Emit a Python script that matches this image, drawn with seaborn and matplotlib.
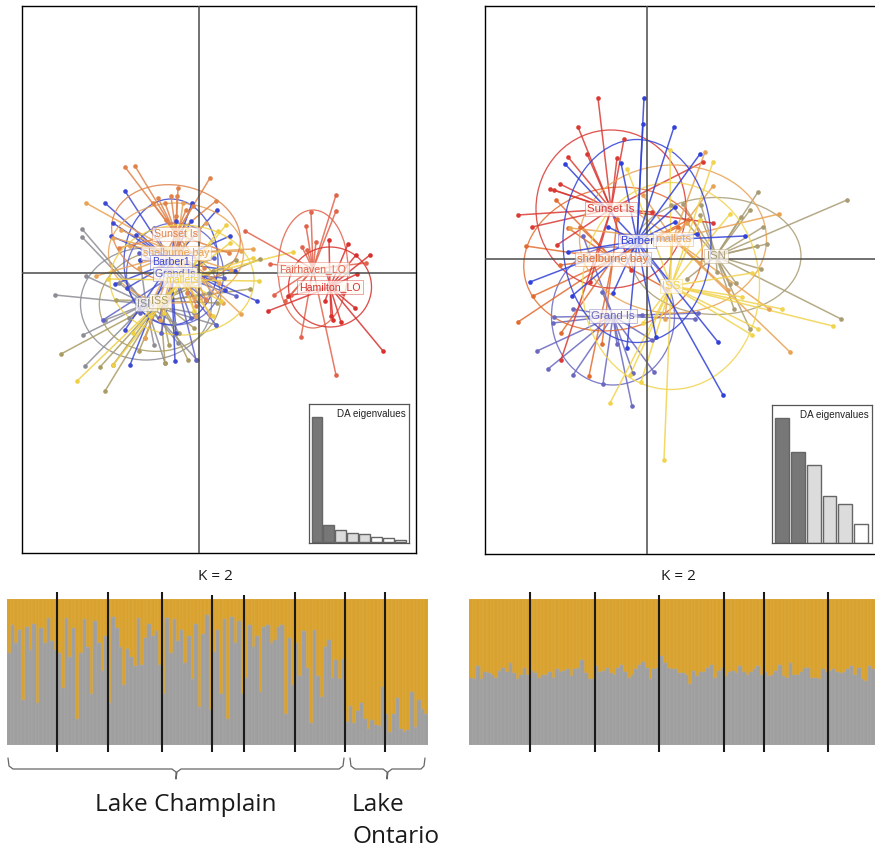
import matplotlib
matplotlib.use("Agg")
import matplotlib.pyplot as plt
from matplotlib.patches import Ellipse
import numpy as np
import pandas as pd
import seaborn as sns

W, H = 875, 849

# --- DAPC left panel: label, colour, centroid, ellipse (w, h, angle), points
left_names = ["ISN", "ISS", "Grand Is", "Barber1", "shelburne bay", "Sunset Is", "mallets", "Fairhaven_LO", "Hamilton_LO"]
left_colors = ["#8c8c94", "#a99b62", "#5f63c8", "#3c48d4", "#e8a355", "#e0824a", "#efd045", "#e2634c", "#d8302c"]
left_centers = [(-53, -31), (-39, -28), (-24, -1), (-28, 11), (-23, 20), (-23, 39), (-17, -7), (114, 4), (131, -14)]
left_ellipses = [(131, 112, 0), (122, 100, 10), (97, 102, 0), (94, 126, 0), (135, 100, 0),
                 (130, 97, -12), (144, 110, 0), (70, 118, 0), (83, 80, 0)]
left_points = [
    [(-117, 44), (-117, 36), (-113, -3), (-144, -22), (-114, -93), (-116, -62), (-94, -47), (-2, -87),
     (17, -52), (-21, -70), (-59, 13), (-34, -90), (-70, -45), (-5, -40), (-80, -10), (-25, -50), (10, -20), (-45, -72)],
    [(-138, -81), (-94, -118), (-99, -94), (-86, -92), (-34, -90), (-11, -87), (51, -16), (61, 14),
     (-83, -27), (-54, -65), (14, 2), (37, 13), (-20, -60), (-60, -78), (-5, -55), (-30, -72), (18, -30)],
    [(-40, -45), (17, -52), (-3, -87), (-38, -60), (-59, -40), (-96, -47), (37, -23), (7, -27), (-60, 20), (-45, 45), (15, 15), (-8, -45), (25, -5)],
    [(-74, 82), (-94, 70), (-86, 50), (-88, 37), (-63, 38), (-7, 70), (18, 63), (31, 37), (-23, 52), (-8, 52),
     (58, -28), (-24, -88), (-69, -92), (-23, -60), (-74, -57), (-84, -11), (-59, 13), (36, 2), (26, -17), (-72, -15)],
    [(-113, 70), (-86, 35), (-78, 43), (-103, -3), (42, 22), (32, 3), (-69, 27), (-54, -65), (-3, -43),
     (11, -42), (-39, -47), (24, -30), (42, -41), (-16, 70), (7, 50), (54, 24), (-5, -25), (-45, -25), (20, -10), (-60, 5)],
    [(-74, 106), (-64, 107), (11, 95), (-21, 85), (-46, 70), (-28, 77), (-22, 77), (-41, 75), (-34, 70),
     (-13, 63), (-23, 57), (-33, 53), (-6, 67), (17, 72), (7, -27), (-3, -33), (-80, 25), (30, 20), (-30, -25), (-12, -20), (-40, 5), (5, 5)],
    [(-122, -108), (-91, -6), (94, 21), (27, 48), (19, 42), (54, 15), (14, -43), (-49, -43), (-86, -92),
     (-66, -60), (31, 30), (-12, 44), (60, -8), (-35, -40), (-5, -38), (22, -28), (-30, 25)],
    [(137, 78), (137, 62), (112, 61), (107, 47), (117, 31), (103, 26), (108, 23), (71, 9), (75, -22),
     (86, -28), (102, -64), (137, -102), (46, 42), (167, 10), (92, -22)],
    [(130, 33), (149, 29), (157, 18), (171, 18), (158, -1), (184, -78), (69, -38), (89, -23), (134, -47),
     (142, -49), (156, -35), (126, -28), (132, -43), (144, -20), (128, 0)],
]
left_label_order = ["Sunset Is", "shelburne bay", "Barber1", "Grand Is", "ISN", "ISS", "mallets", "Fairhaven_LO", "Hamilton_LO"]

# --- DAPC right panel
right_names = ["Grand Is", "ISN", "shelburne bay", "Sunset Is", "mallets", "ISS", "Barber"]
right_colors = ["#6a68c0", "#a99c74", "#e26c30", "#d93a34", "#e8a254", "#f1d34c", "#3040d8"]
right_centers = [(-34, -57), (69, 3), (-34, 0), (-36, 50), (26, 20), (24, -27), (-10, 18)]
right_ellipses = [(123, 138, 0), (170, 117, 0), (180, 142, 12), (150, 158, 0), (187, 148, 0), (177, 207, 0), (148, 203, 0)]
right_points = [
    [(-110, -92), (-99, -110), (-74, -116), (-44, -125), (-15, -147), (7, -113), (-14, -114), (-30, -85),
     (-93, -58), (-94, -64), (-74, -50), (48, -60), (51, -54), (5, -81), (-5, -56), (-64, 23), (-45, -33)],
    [(200, 59), (111, 67), (194, -60), (116, 32), (120, 15), (110, 13), (103, 49), (94, 42), (103, -70),
     (87, -50), (89, -24), (83, -25), (114, -10), (54, 54), (36, 55), (24, 54), (53, 44), (70, -13), (40, -20)],
    [(-129, -63), (-114, -37), (-121, 13), (-91, 59), (-87, -6), (-86, -74), (-58, -117), (-67, 32),
     (31, 32), (41, 39), (-79, 31), (20, -30), (-30, 40), (-45, -85)],
    [(-69, 132), (-49, 161), (-79, 102), (-60, 105), (-30, 101), (-23, 120), (-87, 75), (-97, 70), (-93, 69),
     (-129, 44), (-115, 32), (-90, 14), (56, 97), (66, 36), (-86, -101), (-57, -23), (-16, -11), (5, 47)],
    [(132, 45), (66, 73), (58, 107), (143, -93), (40, 36), (81, -31), (53, -4), (-4, 64), (-77, 31), (18, -60), (122, -50), (-22, 55)],
    [(17, -201), (-37, -144), (-6, -123), (66, 97), (83, 45), (186, -67), (135, -50), (111, -70), (105, -76),
     (-20, 90), (23, 109), (95, -38), (105, -14), (-4, -64), (-17, -116), (53, 39)],
    [(-4, 135), (-3, 161), (27, 132), (53, 105), (-82, 95), (-26, 96), (28, 52), (28, 37), (98, 23), (50, 25),
     (-79, 7), (-117, -23), (-75, -37), (-20, -89), (71, -83), (76, -136), (9, -78), (-34, -34), (-39, 32)],
]
right_label_order = ["Sunset Is", "Barber", "mallets", "shelburne bay", "ISN", "ISS", "Grand Is"]

# eigenvalue insets
left_eigen = [125, 17, 12.5, 9, 8.5, 5.5, 4, 2.5]
right_eigen = [125, 91, 78, 47, 39, 19]

# admixture proportions (grey part of every bar)
left_groups = [
    [.63, .82, .70, .79, .31, .81, .65, .83, .29, .80, .70, .87, .71, .65],
    [.63, .39, .87, .60, .80, .18, .63, .86, .67, .35, .85, .70, .51, .75],
    [.29, .88, .80, .67, .41, .66, .60, .54, .87, .55, .73, .83, .75, .78, .55],
    [.35, .87, .63, .86, .71, .79, .56, .75, .45, .83, .26, .76, .89, .24],
    [.64, .79, .35, .86, .18, .88, .70, .85, .35],
    [.46, .82, .67, .75, .36, .81, .82, .70, .72, .81, .82, .21, .73, .41],
    [.70, .47, .78, .53, .15, .79, .47, .33, .67, .72, .46, .58, .45, .59],
    [.16, .27, .15, .23, .29, .18, .11, .17, .14, .13, .40],
    [.21, .09, .21, .32, .11, .09, .10, .36, .12, .31, .25, .21],
]
right_groups = [
    [.46, .45, .54, .45, .50, .49, .48, .46, .51, .53, .50, .56, .49, .45, .48, .53, .48],
    [.51, .49, .46, .48, .48, .50, .46, .52, .50, .51, .52, .47, .52, .53, .58, .49, .45, .45],
    [.54, .50, .51, .53, .49, .48, .53, .55, .50, .46, .48, .52, .55, .57, .53, .45, .52, .53],
    [.61, .56, .53, .52, .52, .49, .49, .48, .42, .51, .47, .50, .50, .53, .55, .46, .51, .53],
    [.47, .50, .51, .49, .54, .50, .48, .50, .52, .54, .48],
    [.50, .47, .48, .51, .55, .47, .46, .56, .48, .48, .50, .53, .53, .46, .46, .45, .52, .50],
    [.51, .52, .50, .49, .50, .52, .54, .48, .53, .45, .44, .54, .52],
]
left_short = [3, 4]
right_short = [2]

brace_left = [(8, 758), (9, 766), (13, 769), (172, 769), (176, 772), (176, 779), (177, 772), (181, 769), (339, 769), (343, 766), (344, 758)]
brace_right = [(350, 758), (351, 766), (355, 769), (383, 769), (387, 772), (387, 779), (388, 772), (392, 769), (421, 769), (424, 766), (425, 758)]

sns.set_theme(style="white", rc={"font.family": "Liberation Sans"})
fig = plt.figure(figsize=(W / 100, H / 100), dpi=100)


def px_axes(x0, y0, x1, y1):
    return fig.add_axes([x0 / W, 1 - y1 / H, (x1 - x0) / W, (y1 - y0) / H])


def star_panel(ax, names, colors, centers, ellipses, points, order, fs):
    for name, col, c, e, pts in zip(names, colors, centers, ellipses, points):
        df = pd.DataFrame(pts, columns=["x", "y"])
        for px, py in pts:
            ax.plot([c[0], px], [c[1], py], color=col, lw=1.1, alpha=0.85, zorder=2)
        ax.add_patch(Ellipse(c, e[0], e[1], angle=e[2], fill=False, ec=col, lw=0.95, alpha=0.85, zorder=2))
        sns.scatterplot(data=df, x="x", y="y", color=col, s=11, linewidth=0, ax=ax, zorder=3)
    ax.axhline(0, color="#4a4a4a", lw=1.1, zorder=4)
    ax.axvline(0, color="#4a4a4a", lw=1.1, zorder=4)
    for name in order:
        i = names.index(name)
        ax.text(centers[i][0], centers[i][1], name, color=colors[i], fontsize=fs, ha="center", va="center", zorder=5,
                bbox=dict(boxstyle="square,pad=0.2", fc="#fffaf5", ec=colors[i], lw=0.4, alpha=0.75))
    ax.set_xlabel("")
    ax.set_ylabel("")
    ax.set_xticks([])
    ax.set_yticks([])
    for s in ax.spines.values():
        s.set_color("black")
        s.set_linewidth(1)


def eigen_inset(ax, vals, ymax):
    n = len(vals)
    cols = (["#777777"] * 2 + ["#dcdcdc"] * 3 + ["white"] * n)[:n]
    df = pd.DataFrame({"i": list(range(n)), "v": vals})
    sns.barplot(data=df, x="i", y="v", hue="i", palette=cols, legend=False, saturation=1,
                width=0.88, edgecolor="#666666", linewidth=1, ax=ax)
    ax.set_xlim(-0.65, n - 0.3)
    ax.set_ylim(-0.5, ymax)
    ax.set_xticks([])
    ax.set_yticks([])
    ax.set_xlabel("")
    ax.set_ylabel("")
    for s in ax.spines.values():
        s.set_color("#555555")
        s.set_linewidth(0.9)
    ax.text(0.97, 0.965, "DA eigenvalues", transform=ax.transAxes, ha="right", va="top", fontsize=7.1, color="#222222")


def structure(ax, groups, short):
    vals = [v for g in groups for v in g]
    df = pd.DataFrame({"i": list(range(len(vals))), "grey": vals, "all": [1.0] * len(vals)})
    sns.barplot(data=df, x="i", y="all", color="#d9a22e", saturation=1, width=1,
                edgecolor="#e0ae48", linewidth=0.35, ax=ax)
    sns.barplot(data=df, x="i", y="grey", color="#9f9f9f", saturation=1, width=1,
                edgecolor="#ababab", linewidth=0.35, ax=ax)
    ax.set_xlim(-0.5, len(vals) - 0.5)
    ax.set_ylim(0, 1)
    ax.axis("off")
    cuts = np.cumsum([len(g) for g in groups])[:-1]
    for k, c in enumerate(cuts):
        top_y = 1.03 if k in short else 1.05
        ax.vlines(c - 0.5, -0.048, top_y, color="#1a1a1a", lw=1.5, clip_on=False, zorder=5)


ax1 = px_axes(22, 6, 416, 553)
ax1.set_xlim(-177, 217)
ax1.set_ylim(-280, 267)
star_panel(ax1, left_names, left_colors, left_centers, left_ellipses, left_points, left_label_order, 7.6)

ax2 = px_axes(485, 6, 905, 554)
ax2.set_xlim(-162, 258)
ax2.set_ylim(-295, 253)
star_panel(ax2, right_names, right_colors, right_centers, right_ellipses, right_points, right_label_order, 8.2)

eigen_inset(px_axes(309, 404, 409, 543), left_eigen, 138)
eigen_inset(px_axes(772, 405, 872, 543), right_eigen, 138)

structure(px_axes(7, 599, 428, 745), left_groups, left_short)
structure(px_axes(469, 599, 875, 745), right_groups, right_short)

# overlay in picture pixels for the titles and the braces
top = px_axes(0, 0, W, H)
top.set_xlim(0, W)
top.set_ylim(H, 0)
top.axis("off")
top.patch.set_alpha(0)
for br in (brace_left, brace_right):
    bx, by = zip(*br)
    top.plot(bx, by, color="#666666", lw=0.9)

plain = ["Open Sans", "DejaVu Sans"]
top.text(215, 576, "K = 2", fontsize=11, ha="center", va="center", family=plain, color="#1a1a1a")
top.text(678, 576, "K = 2", fontsize=11, ha="center", va="center", family=plain, color="#1a1a1a")
top.text(186, 805, "Lake Champlain", fontsize=17.6, ha="center", va="center", family=plain, color="#1a1a1a")
top.text(352, 805, "Lake", fontsize=17.6, ha="left", va="center", family=plain, color="#1a1a1a")
top.text(352, 837, "Ontario", fontsize=17.6, ha="left", va="center", family=plain, color="#1a1a1a")

fig.savefig("out.png", dpi=100)
